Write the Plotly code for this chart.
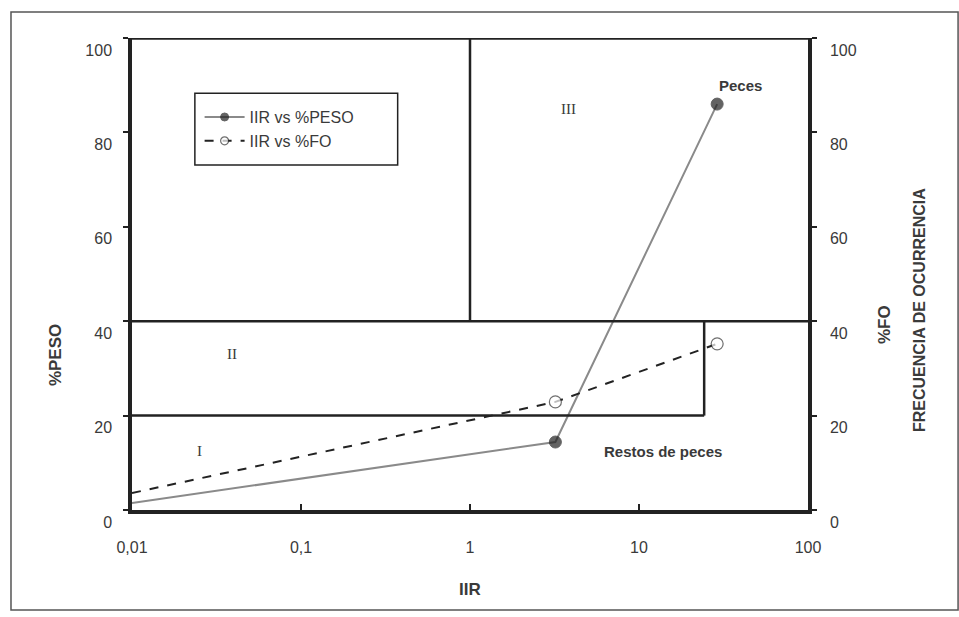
import plotly.graph_objects as go

# IIR vs %PESO and IIR vs %FO
iir = [0.01, 3.2, 29]
peso = [1.5, 14.4, 86]
fo = [3.6, 22.9, 35.2]

x_ticks = [0.01, 0.1, 1, 10, 100]
x_tick_text = ["0,01", "0,1", "1", "10", "100"]
y_ticks = [0, 20, 40, 60, 80, 100]

# Region boundaries (IIR, %)
split_iir = 1
region_ii_iir = 24.3
upper_limit = 40
lower_limit = 20

font_family = "Liberation Sans, Arial, sans-serif"
ink = "#222222"
label_col = "#3a3a3a"

fig = go.Figure()

fig.add_trace(go.Scatter(
    x=iir, y=peso, name="IIR vs %PESO", mode="lines+markers",
    line=dict(color="#8a8a8a", width=2),
    marker=dict(color=ink, size=[0, 12, 12], line=dict(color=ink, width=1)),
))
fig.add_trace(go.Scatter(
    x=iir, y=fo, name="IIR vs %FO", mode="lines+markers", yaxis="y2",
    line=dict(color=ink, width=2, dash="dash"),
    marker=dict(color="white", size=[0, 12, 12], line=dict(color="#333", width=1.2)),
))

line_style = dict(color=ink, width=2.5)
shapes = [
    # region I / II / III boundaries
    dict(type="line", xref="x", yref="y", x0=0.01, x1=100, y0=upper_limit, y1=upper_limit, line=line_style),
    dict(type="line", xref="x", yref="y", x0=0.01, x1=region_ii_iir, y0=lower_limit, y1=lower_limit, line=line_style),
    dict(type="line", xref="x", yref="y", x0=region_ii_iir, x1=region_ii_iir, y0=lower_limit, y1=upper_limit, line=line_style),
    dict(type="line", xref="x", yref="y", x0=split_iir, x1=split_iir, y0=upper_limit, y1=100, line=line_style),
    # top edge of the plot box
    dict(type="line", xref="x", yref="y", x0=0.01, x1=100, y0=100, y1=100, line=dict(color=ink, width=3.5)),
    # legend frame
    dict(type="rect", xref="paper", yref="paper", x0=0.093, x1=0.393, y0=0.731, y1=0.883,
         line=dict(color=ink, width=1.5), fillcolor="white", layer="below"),
    # outer frame
    dict(type="rect", xref="paper", yref="paper", x0=-0.179, x1=1.222, y0=-0.212, y1=1.055,
         line=dict(color="#555", width=1.5), layer="below"),
]

ann_font = dict(family=font_family, size=15, color=label_col)
roman = dict(family="Liberation Serif, Times New Roman, serif", size=15, color=label_col)
title_font = dict(family=font_family, size=17, color=label_col)
center = dict(showarrow=False, xanchor="center", yanchor="middle")
annotations = [
    dict(x=-1.6, y=12.5, xref="x", yref="y", text="I", font=roman, **center),
    dict(x=-1.41, y=33, xref="x", yref="y", text="II", font=roman, **center),
    dict(x=0.58, y=85, xref="x", yref="y", text="III", font=roman, **center),
    dict(x=1.6, y=90, xref="x", yref="y", text="<b>Peces</b>", font=ann_font, **center),
    dict(x=1.14, y=12.5, xref="x", yref="y", text="<b>Restos de peces</b>", font=ann_font, **center),
    dict(x=-0.114, y=0.328, xref="paper", yref="paper", text="<b>%PESO</b>", textangle=-90,
         font=title_font, **center),
    dict(x=1.114, y=0.392, xref="paper", yref="paper", text="<b>%FO</b>", textangle=-90,
         font=title_font, **center),
    dict(x=1.166, y=0.424, xref="paper", yref="paper", text="<b>FRECUENCIA DE OCURRENCIA</b>",
         textangle=-90, font=dict(family=font_family, size=16, color=label_col), **center),
    dict(x=0.5, y=-0.169, xref="paper", yref="paper", text="<b>IIR</b>", font=title_font, **center),
]

tick_font = dict(family=font_family, size=16, color=label_col)

fig.update_layout(
    width=959, height=617,
    margin=dict(l=132, r=151, t=38, b=107),
    paper_bgcolor="white", plot_bgcolor="white",
    showlegend=True,
    legend=dict(x=0.1, y=0.807, xanchor="left", yanchor="middle",
                borderwidth=0, bgcolor="rgba(0,0,0,0)",
                font=dict(family=font_family, size=16, color=label_col),
                tracegroupgap=0, itemwidth=40),
    xaxis=dict(type="log", range=[-2, 2], tickvals=x_ticks, ticktext=x_tick_text,
               showgrid=False, zeroline=False, showline=True, linecolor=ink, linewidth=3.5,
               ticks="inside", ticklen=6, tickcolor=ink, tickwidth=1.5,
               tickfont=tick_font, ticklabelstandoff=20),
    yaxis=dict(range=[0, 100], tickvals=y_ticks, showgrid=False, zeroline=False,
               showline=True, linecolor=ink, linewidth=3.5, ticks="outside", ticklen=5,
               tickcolor=ink, tickwidth=1.5, tickfont=tick_font, ticklabelshift=12,
               ticklabelstandoff=8),
    yaxis2=dict(range=[0, 100], tickvals=y_ticks, overlaying="y", side="right",
                showgrid=False, zeroline=False, showline=True, linecolor=ink, linewidth=3.5,
                ticks="outside", ticklen=5, tickcolor=ink, tickwidth=1.5, tickfont=tick_font,
                ticklabelshift=12, ticklabelstandoff=10),
    shapes=shapes,
    annotations=annotations,
)

fig.write_html("out.html")
